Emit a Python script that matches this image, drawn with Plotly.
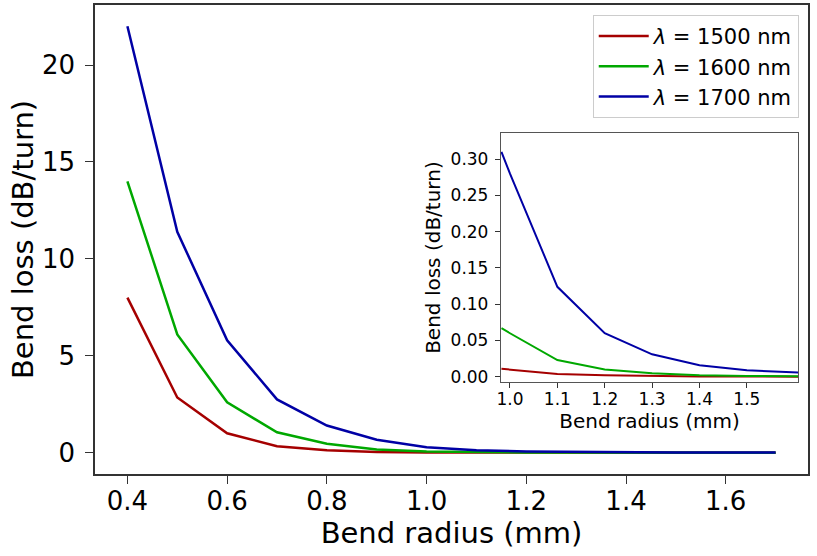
import plotly.graph_objects as go

# bend loss vs bend radius for three wavelengths
radius = [0.4, 0.5, 0.6, 0.7, 0.8, 0.9, 1.0, 1.1, 1.2, 1.3, 1.4, 1.5, 1.6, 1.7]
loss_1500 = [8.0, 2.85, 1.0, 0.33, 0.12, 0.04, 0.011, 0.004, 0.002, 0.001,
             0.0005, 0.0003, 0.0002, 0.0001]
loss_1600 = [14.0, 6.1, 2.6, 1.05, 0.46, 0.17, 0.06, 0.023, 0.010, 0.005,
             0.002, 0.001, 0.0007, 0.0005]
loss_1700 = [22.0, 11.4, 5.8, 2.75, 1.4, 0.67, 0.28, 0.124, 0.06, 0.031,
             0.016, 0.009, 0.005, 0.003]

# zoomed inset (first point sits on the inset's left edge)
inset_radius = [0.982, 1.0, 1.1, 1.2, 1.3, 1.4, 1.5, 1.6, 1.7]
inset_1500 = [0.011, 0.010, 0.004, 0.002, 0.001, 0.0005, 0.0003, 0.0002, 0.0001]
inset_1600 = [0.067, 0.060, 0.023, 0.010, 0.005, 0.002, 0.001, 0.0007, 0.0005]
inset_1700 = [0.31, 0.28, 0.124, 0.06, 0.031, 0.016, 0.009, 0.005, 0.003]

names = ["<i>λ</i> = 1500 nm", "<i>λ</i> = 1600 nm", "<i>λ</i> = 1700 nm"]
colors = ["#a50000", "#00a800", "#0000a5"]

font = "DejaVu Sans"
fig = go.Figure()

for y, name, c in zip([loss_1500, loss_1600, loss_1700], names, colors):
    fig.add_trace(go.Scatter(x=radius, y=y, name=name, mode="lines",
                             line=dict(color=c, width=2.5)))

for y, c in zip([inset_1500, inset_1600, inset_1700], colors):
    fig.add_trace(go.Scatter(x=inset_radius, y=y, mode="lines", showlegend=False,
                             xaxis="x2", yaxis="y2",
                             line=dict(color=c, width=2)))

axis_main = dict(showline=True, mirror=True, linecolor="#333", linewidth=1.5,
                 ticks="outside", ticklen=8, tickwidth=1.3, tickcolor="#333",
                 showgrid=False, zeroline=False, automargin=False,
                 tickfont=dict(size=26, family=font, color="black"))
axis_inset = dict(showline=True, mirror=True, linecolor="#555", linewidth=1.3,
                  ticks="outside", ticklen=5, tickwidth=1.1, tickcolor="#333",
                  showgrid=False, zeroline=False, automargin=False,
                  tickfont=dict(size=17, family=font, color="black"))

fig.update_layout(
    width=817, height=556,
    margin=dict(l=95, r=9, t=5, b=82),
    paper_bgcolor="white", plot_bgcolor="white",
    font=dict(family=font, color="black"),
    xaxis=dict(axis_main, range=[0.335, 1.765], tickvals=[0.4, 0.6, 0.8, 1.0, 1.2, 1.4, 1.6],
               tickformat=".1f", ticklabelstandoff=-5,
               title=dict(text="Bend radius (mm)", font=dict(size=29), standoff=4)),
    yaxis=dict(axis_main, range=[-1.1, 23.1], tickvals=[0, 5, 10, 15, 20],
               ticklabelstandoff=5,
               title=dict(text="Bend loss (dB/turn)", font=dict(size=29), standoff=0)),
    xaxis2=dict(axis_inset, domain=[0.5694, 0.986], anchor="y2",
                range=[0.981, 1.608], tickvals=[1.0, 1.1, 1.2, 1.3, 1.4, 1.5],
                tickformat=".1f", ticklabelstandoff=-4,
                title=dict(text="Bend radius (mm)", font=dict(size=20), standoff=2)),
    yaxis2=dict(axis_inset, domain=[0.196, 0.727], anchor="x2",
                range=[-0.0073, 0.336], tickvals=[0, 0.05, 0.1, 0.15, 0.2, 0.25, 0.3],
                tickformat=".2f", ticklabelstandoff=3,
                title=dict(text="Bend loss (dB/turn)", font=dict(size=20), standoff=4)),
    legend=dict(x=0.987, y=0.979, xanchor="right", yanchor="top",
                bgcolor="white", bordercolor="#cccccc", borderwidth=1,
                font=dict(size=21, family=font, color="black"),
                itemwidth=50),
    showlegend=True,
)

# drop the page's default body margin so the figure sits at the window corner
fig.write_html("out.html", config={"displayModeBar": False},
               post_script="document.body.style.margin = '0';")
